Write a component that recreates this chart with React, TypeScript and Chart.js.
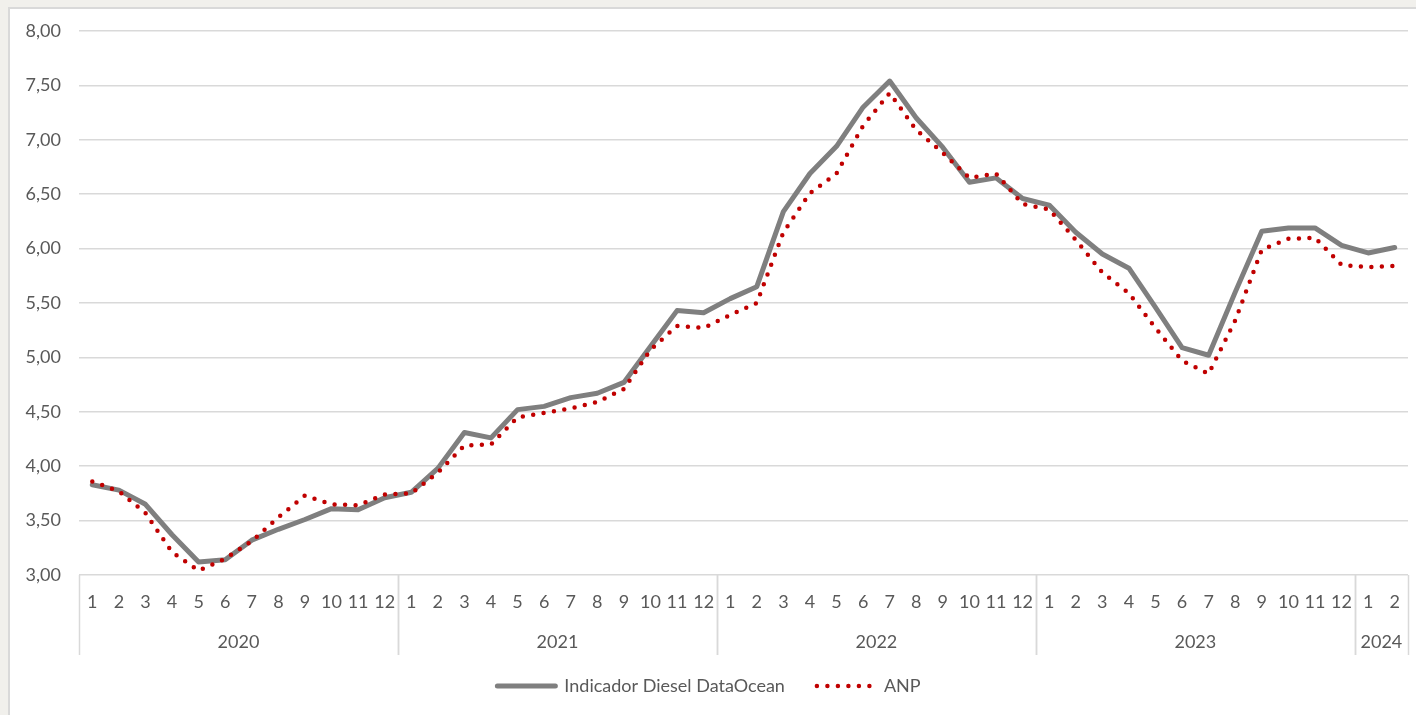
import React, { useEffect, useRef } from 'react';
import { Chart, registerables } from 'chart.js';

Chart.register(...registerables);

const monthLabels = [
  '1', '2', '3', '4', '5', '6', '7', '8', '9', '10', '11', '12',
  '1', '2', '3', '4', '5', '6', '7', '8', '9', '10', '11', '12',
  '1', '2', '3', '4', '5', '6', '7', '8', '9', '10', '11', '12',
  '1', '2', '3', '4', '5', '6', '7', '8', '9', '10', '11', '12',
  '1', '2',
];
const yearLabels = ['2020', '2021', '2022', '2023', '2024'];
const yearMonthCounts = [12, 12, 12, 12, 2];

const indicadorValues = [
  3.83, 3.78, 3.65, 3.37, 3.12, 3.14, 3.32, 3.42, 3.51, 3.61, 3.60, 3.71,
  3.76, 3.98, 4.31, 4.26, 4.52, 4.55, 4.63, 4.67, 4.77, 5.10, 5.43, 5.41,
  5.54, 5.65, 6.34, 6.69, 6.94, 7.30, 7.54, 7.20, 6.93, 6.61, 6.65, 6.46,
  6.40, 6.15, 5.95, 5.82, 5.46, 5.09, 5.02, 5.60, 6.16, 6.19, 6.19, 6.03,
  5.96, 6.01,
];
const anpValues = [
  3.86, 3.77, 3.57, 3.21, 3.04, 3.15, 3.31, 3.53, 3.73, 3.65, 3.64, 3.74,
  3.75, 3.94, 4.19, 4.20, 4.45, 4.49, 4.53, 4.59, 4.71, 5.07, 5.29, 5.27,
  5.39, 5.50, 6.15, 6.51, 6.69, 7.13, 7.43, 7.09, 6.88, 6.65, 6.69, 6.41,
  6.36, 6.08, 5.78, 5.59, 5.27, 4.97, 4.85, 5.34, 5.99, 6.09, 6.10, 5.85,
  5.83, 5.84,
];

const seriesNames = ['Indicador Diesel DataOcean', 'ANP'];
const yMin = 3;
const yMax = 8;
const yStep = 0.5;

const FONT = 'Lato, "Liberation Sans", sans-serif';
const TEXT = '#595959';
const GRID = '#d9d9d9';

const yearGroupPlugin = {
  id: 'yearGroups',
  afterDraw(chart: any) {
    const { ctx, chartArea, scales } = chart;
    const xs = scales.x;
    const top = chartArea.bottom;
    const bottom = top + 80;
    ctx.save();
    ctx.strokeStyle = GRID;
    ctx.lineWidth = 1.5;
    ctx.fillStyle = TEXT;
    ctx.font = `18px ${FONT}`;
    ctx.textAlign = 'center';
    ctx.textBaseline = 'middle';
    let start = 0;
    const n = monthLabels.length;
    yearMonthCounts.forEach((count, gi) => {
      const end = start + count - 1;
      const leftB = start === 0 ? chartArea.left : (xs.getPixelForValue(start - 1) + xs.getPixelForValue(start)) / 2;
      const rightB = end === n - 1 ? chartArea.right : (xs.getPixelForValue(end) + xs.getPixelForValue(end + 1)) / 2;
      ctx.beginPath();
      ctx.moveTo(Math.round(leftB) + 0.5, top);
      ctx.lineTo(Math.round(leftB) + 0.5, bottom);
      ctx.moveTo(Math.round(rightB) + 0.5, top);
      ctx.lineTo(Math.round(rightB) + 0.5, bottom);
      ctx.stroke();
      ctx.fillText(yearLabels[gi], (leftB + rightB) / 2, top + 67);
      start += count;
    });
    ctx.restore();
  },
};

export default function App() {
  const canvasRef = useRef<HTMLCanvasElement | null>(null);

  useEffect(() => {
    if (!canvasRef.current) return;
    const chart = new Chart(canvasRef.current, {
      type: 'line',
      data: {
        labels: monthLabels,
        datasets: [
          {
            label: seriesNames[0],
            data: indicadorValues,
            borderColor: '#7f7f7f',
            backgroundColor: '#7f7f7f',
            borderWidth: 5,
            borderCapStyle: 'round',
            borderJoinStyle: 'round',
            pointRadius: 0,
            tension: 0,
            order: 1,
          },
          {
            label: seriesNames[1],
            data: anpValues,
            borderColor: '#c00000',
            backgroundColor: '#c00000',
            borderWidth: 4.5,
            borderDash: [0, 10.5],
            borderCapStyle: 'round',
            borderJoinStyle: 'round',
            pointRadius: 0,
            tension: 0,
            order: 0,
          },
        ],
      },
      options: {
        responsive: false,
        animation: false,
        layout: { padding: { left: 0, right: 8, top: 22, bottom: 0 } },
        plugins: {
          tooltip: { enabled: false },
          legend: {
            position: 'bottom',
            labels: {
              usePointStyle: true,
              pointStyle: 'line',
              pointStyleWidth: 58,
              color: TEXT,
              font: { family: FONT, size: 18 },
              padding: 32,
              sort: (a: any, b: any) => a.datasetIndex - b.datasetIndex,
              generateLabels: (ch: any) => {
                const items = (Chart as any).defaults.plugins.legend.labels.generateLabels(ch);
                return items.map((it: any) => {
                  const ds = ch.data.datasets[it.datasetIndex];
                  return {
                    ...it,
                    lineWidth: ds.borderWidth,
                    lineDash: ds.borderDash || [],
                    lineCap: 'round',
                    strokeStyle: ds.borderColor,
                    fillStyle: ds.borderColor,
                    pointStyle: 'line',
                  };
                });
              },
            },
          },
        },
        scales: {
          x: {
            offset: true,
            grid: { display: false, drawTicks: false, offset: true },
            border: { display: false },
            ticks: {
              color: TEXT,
              font: { family: FONT, size: 18 },
              autoSkip: false,
              maxRotation: 0,
              padding: 16,
            },
            afterFit: (scale: any) => {
              scale.height = 70;
            },
          },
          y: {
            min: yMin,
            max: yMax,
            grid: { color: GRID, lineWidth: 1.5, drawTicks: false },
            border: { display: false },
            ticks: {
              stepSize: yStep,
              color: TEXT,
              font: { family: FONT, size: 18 },
              padding: 18,
              callback: (v: any) => Number(v).toFixed(2).replace('.', ','),
            },
            afterFit: (scale: any) => {
              scale.width = 69;
              scale.paddingTop = 11;
              scale.paddingBottom = 11;
            },
          },
        },
      },
      plugins: [yearGroupPlugin],
    } as any);
    return () => chart.destroy();
  }, []);

  return (
    <div style={{ position: 'fixed', left: 0, top: 0, width: 1416, height: 715, background: '#f1f0ec', overflow: 'hidden' }}>
      <div
        style={{
          position: 'absolute',
          left: 8,
          top: 7,
          width: 1412,
          height: 712,
          border: '2px solid #d9d9d9',
          background: '#ffffff',
          boxSizing: 'border-box',
          overflow: 'hidden',
        }}
      >
        <canvas ref={canvasRef} width={1406} height={696} style={{ display: 'block' }} />
      </div>
    </div>
  );
}
